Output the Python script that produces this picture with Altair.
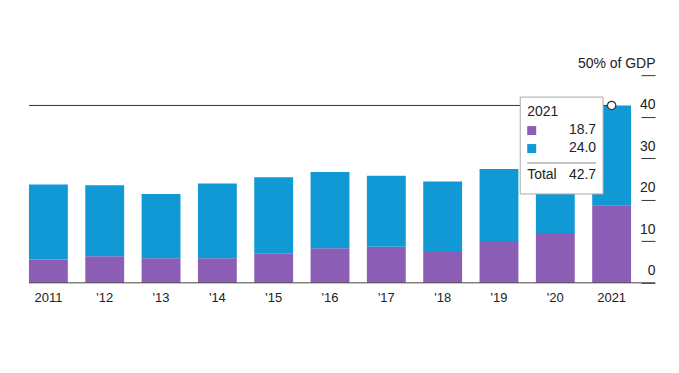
import altair as alt
import pandas as pd

years = ["2011", "'12", "'13", "'14", "'15", "'16", "'17", "'18", "'19", "'20", "2021"]
purple_vals = [5.6, 6.4, 5.9, 5.9, 7.0, 8.3, 8.7, 7.4, 9.8, 12.0, 18.7]
blue_vals = [18.1, 17.1, 15.5, 18.0, 18.4, 18.4, 17.1, 17.0, 17.6, 20.0, 24.0]
series = ["Series A", "Series B"]
colors = ["#8b5db4", "#1199d6"]
y_ticks = [0, 10, 20, 30, 40, 50]

rows = []
for y, p, b in zip(years, purple_vals, blue_vals):
    rows.append({"year": y, "series": series[0], "value": p, "idx": 0})
    rows.append({"year": y, "series": series[1], "value": b, "idx": 1})
df = pd.DataFrame(rows)

sel = pd.DataFrame([{"year": years[-1], "p": purple_vals[-1], "b": blue_vals[-1],
                     "total": round(purple_vals[-1] + blue_vals[-1], 1)}])

FONT = "Liberation Sans"
TXT = "#222222"

xenc = alt.X("year:N", sort=years,
             scale=alt.Scale(paddingInner=0.31, paddingOuter=0),
             axis=alt.Axis(title=None, domain=False, ticks=False, labelPadding=9,
                           labelFontSize=13, labelColor=TXT, labelAngle=0, labelFont=FONT))

bars = alt.Chart(df).mark_bar().encode(
    x=xenc,
    y=alt.Y("value:Q", stack="zero",
            scale=alt.Scale(domain=[0, 50], nice=False),
            axis=alt.Axis(title=None, orient="right", values=y_ticks, domain=False,
                          grid=False, ticks=True, tickSize=14, tickColor="#333333",
                          offset=10, labelAlign="right", labelBaseline="bottom",
                          labelPadding=0, labelOffset=-5, labelFontSize=14,
                          labelColor=TXT, labelFont=FONT, labelOverlap=False,
                          labelFlush=False,
                          labelExpr="datum.value == 50 ? '50% of GDP' : datum.label")),
    color=alt.Color("series:N", scale=alt.Scale(domain=series, range=colors), legend=None),
    order=alt.Order("idx:Q"),
)

baseline = alt.Chart(sel).mark_rule(color="#444444", strokeWidth=1).encode(
    x=alt.value(0), x2=alt.value(627), y=alt.datum(0)
)

cross = alt.Chart(sel).mark_rule(color="#333333", strokeWidth=1).encode(
    x=alt.X("year:N", sort=years, bandPosition=0.5),
    x2=alt.value(0),
    y=alt.Y("total:Q"),
)

dot = alt.Chart(sel).mark_point(filled=True, fill="white", stroke="#333333",
                                strokeWidth=1.2, size=70, opacity=1).encode(
    x=alt.X("year:N", sort=years, bandPosition=0.5),
    y=alt.Y("total:Q"),
)

box = alt.Chart(sel).mark_rect(fill="white", stroke="#aaaaaa", strokeWidth=1).encode(
    x=alt.value(492), x2=alt.value(575), y=alt.value(22), y2=alt.value(119)
)

sq_p = alt.Chart(sel).mark_rect(color=colors[0]).encode(
    x=alt.value(499), x2=alt.value(508), y=alt.value(51), y2=alt.value(60)
)
sq_b = alt.Chart(sel).mark_rect(color=colors[1]).encode(
    x=alt.value(499), x2=alt.value(508), y=alt.value(69), y2=alt.value(78)
)
sep = alt.Chart(sel).mark_rule(color="#888888", strokeWidth=1).encode(
    x=alt.value(499), x2=alt.value(568), y=alt.value(88)
)

def txt(field, x, y, align, fmt=None):
    return alt.Chart(sel).mark_text(align=align, baseline="middle", fontSize=14,
                                    font=FONT, color=TXT).encode(
        x=alt.value(x), y=alt.value(y),
        text=alt.Text(field, format=fmt) if fmt else alt.Text(field))

t_year = txt("year:N", 499, 37, "left")
t_p = txt("p:Q", 568, 55, "right", ".1f")
t_b = txt("b:Q", 568, 73, "right", ".1f")
t_tl = alt.Chart(sel).mark_text(align="left", baseline="middle", fontSize=14,
                                font=FONT, color=TXT, text="Total").encode(
    x=alt.value(499), y=alt.value(100))
t_t = txt("total:Q", 568, 100, "right", ".1f")

chart = alt.layer(bars, baseline, cross, box, sq_p, sq_b, sep, t_year, t_p, t_b,
                  t_tl, t_t, dot).properties(
    width=603, height=208,
    autosize=alt.AutoSizeParams(type="none"),
    padding={"left": 21, "top": 67, "right": 40, "bottom": 40},
    background="white",
).configure_view(stroke=None)

chart.save("out.html", embed_options={"renderer": "svg", "actions": False})
